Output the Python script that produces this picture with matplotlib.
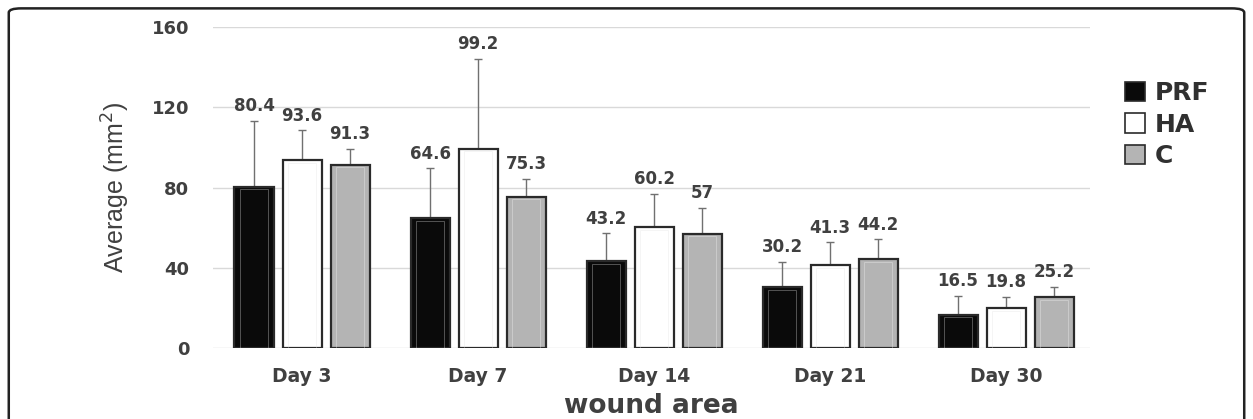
import numpy as np
import matplotlib.pyplot as plt
from matplotlib.patches import FancyBboxPatch, Patch

#--------------
days = ['Day 3', 'Day 7', 'Day 14', 'Day 21', 'Day 30']
groups = ['PRF', 'HA', 'C']
prf = [80.4, 64.6, 43.2, 30.2, 16.5]
ha = [93.6, 99.2, 60.2, 41.3, 19.8]
c = [91.3, 75.3, 57, 44.2, 25.2]
prf_err = [33, 25, 14, 12.7, 9.5]
ha_err = [15, 45, 16.6, 11.5, 5.7]
c_err = [8, 9, 12.8, 10, 5.3]
#--------------

txt = '#404040'
colors = ['#0a0a0a', '#ffffff', '#b4b4b4']
fig = plt.figure(figsize=(12.53, 4.19), dpi=100)
ax = fig.add_axes([0.170, 0.1695, 0.700, 0.766])

x = np.arange(len(days))
w = 0.222
step = 0.273
for i, (vals, errs) in enumerate(zip([prf, ha, c], [prf_err, ha_err, c_err])):
    pos = x + (i - 1) * step
    ax.bar(pos, vals, w, color=colors[i], edgecolor='#2a2a2a', linewidth=1.6, zorder=3)
    # soft inner highlight to mimic the bevelled bars
    ax.bar(pos, np.array(vals) - 1.2, w * 0.72, color='none',
           edgecolor='#ffffff' if i != 1 else '#e0e0e0', linewidth=0.6, alpha=0.35, zorder=4)
    ax.errorbar(pos, vals, yerr=[np.zeros(len(vals)), errs], fmt='none',
                ecolor='#707070', elinewidth=1, capsize=3, capthick=1, zorder=2)
    for p, v, e in zip(pos, vals, errs):
        ax.annotate(f'{v:g}', (p, v + e), xytext=(0, 4), textcoords='offset points',
                    ha='center', va='bottom', fontsize=12, fontweight='bold', color=txt)

ax.set_ylim(0, 160)
ax.set_xlim(-0.506, 4.477)
ax.set_yticks([0, 40, 80, 120, 160])
ax.set_xticks(x)
ax.set_xticklabels(days)
ax.tick_params(length=0, labelcolor=txt)
ax.tick_params(axis='x', labelsize=13.5, pad=14)
ax.tick_params(axis='y', labelsize=13, pad=17)
for lab in ax.get_xticklabels() + ax.get_yticklabels():
    lab.set_fontweight('bold')
ax.grid(axis='y', color='#d9d9d9', linewidth=1, zorder=0)
for s in ax.spines.values():
    s.set_visible(False)

ax.set_ylabel('Average (mm$^2$)', fontsize=18, color=txt, family='Liberation Sans',
              labelpad=14)
ax.set_xlabel('wound area', fontsize=19, fontweight='bold', color=txt, labelpad=5)

handles = [Patch(facecolor=colors[i], edgecolor='#2a2a2a', linewidth=1.2) for i in range(3)]
leg = fig.legend(handles, groups, loc='upper left', bbox_to_anchor=(0.88, 0.86),
                 frameon=False, handlelength=0.8, handleheight=0.8, handletextpad=0.4,
                 labelspacing=0.3, prop={'size': 18, 'weight': 'bold'})
for t in leg.get_texts():
    t.set_color('#303030')

fig.patches.append(FancyBboxPatch((0.007, -0.05), 0.986, 1.03, transform=fig.transFigure,
                                  boxstyle='round,pad=0,rounding_size=0.01',
                                  fill=False, edgecolor='#222222', linewidth=1.8))

fig.savefig('out.png', dpi=100)
